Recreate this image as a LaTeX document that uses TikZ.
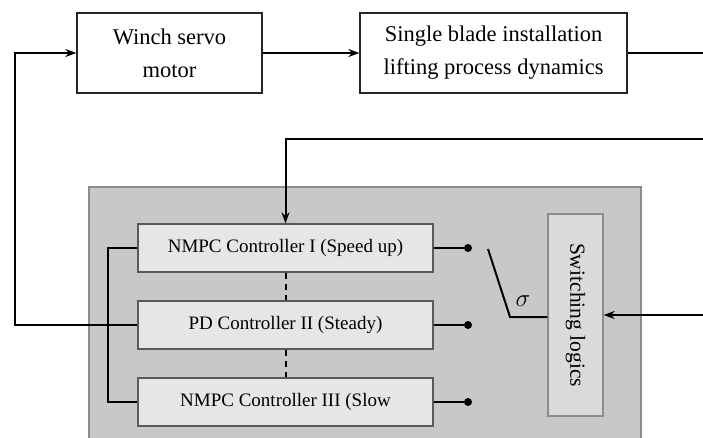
\documentclass[tikz,border=0pt]{standalone}
\usepackage{fontspec}
\setmainfont{Liberation Serif}
\usetikzlibrary{arrows.meta}

\newcommand{\connLineWidth}{2pt}
\newcommand{\boxLineWidth}{1.3pt}
\newcommand{\topRowY}{53}
\newcommand{\refLineY}{139}
\newcommand{\ctrlX}{285.5}
\newcommand{\ctrlOneY}{248}
\newcommand{\ctrlTwoY}{325}
\newcommand{\ctrlThreeY}{402}
\newcommand{\dotX}{468}
\newcommand{\busX}{108}
\newcommand{\feedX}{15}
\newcommand{\rightX}{703}

\definecolor{groupfill}{HTML}{C8C8C8}
\definecolor{groupline}{HTML}{8C8C8C}
\definecolor{ctrlfill}{HTML}{E6E6E6}
\definecolor{ctrlline}{HTML}{5A5A5A}
\definecolor{switchfill}{HTML}{DADADA}

\tikzset{
  plantbox/.style={draw=black!85, line width=\boxLineWidth, fill=white, align=center,
    inner sep=0pt, font=\fontsize{22.5}{33}\selectfont},
  ctrlbox/.style={draw=ctrlline, line width=\boxLineWidth, fill=ctrlfill, inner sep=0pt,
    minimum width=295pt, minimum height=48pt, font=\fontsize{19}{22}\selectfont},
  switchbox/.style={draw=groupline, line width=\boxLineWidth, fill=switchfill, inner sep=0pt,
    minimum width=55pt, minimum height=202pt},
  conn/.style={line width=\connLineWidth, black},
  arr/.style={conn, -{Stealth[length=11pt,width=8pt]}},
  contact/.style={circle, fill=black, inner sep=0pt, minimum size=8pt}
}

\begin{document}
\begin{tikzpicture}[x=1pt,y=-1pt]
        \clip (0,0) rectangle (703,438);

        % Controller group background
        \fill[groupfill, draw=groupline, line width=1.5pt] (89,187) rectangle (641,460);

        % Plant
        \node[plantbox, minimum width=185pt, minimum height=80pt] (winch) at (169.5,\topRowY) {Winch servo\\motor};
        \node[plantbox, minimum width=267pt, minimum height=80pt] (blade) at (493.5,\topRowY) {Single blade installation\\lifting process dynamics};

        % Controllers
        \node[ctrlbox] (ctrlOne) at (\ctrlX,\ctrlOneY) {NMPC Controller I (Speed up)};
        \node[ctrlbox] (ctrlTwo) at (\ctrlX,\ctrlTwoY) {PD Controller II (Steady)};
        \node[ctrlbox] (ctrlThree) at (\ctrlX,\ctrlThreeY) {NMPC Controller III (Slow};
        \node[switchbox] (switch) at (575.5,315) {};
        \node[rotate=-90, font=\fontsize{21.5}{24}\selectfont] (switchText) at (switch.center) {Switching logics};

        % Switch contacts
        \node[contact] (dotOne) at (\dotX,\ctrlOneY) {};
        \node[contact] (dotTwo) at (\dotX,\ctrlTwoY) {};
        \node[contact] (dotThree) at (\dotX,\ctrlThreeY) {};
        \coordinate (bladeTip) at (488,249);
        \coordinate (bladeFoot) at (510,317);
        \node[font=\fontsize{25}{28}\selectfont] (sigma) at (523,301) {$\sigma$};

        % Free ends on the right
        \coordinate (outEnd) at (\rightX,\topRowY);
        \coordinate (refIn) at (\rightX,\refLineY);
        \coordinate (measIn) at (\rightX,315);
        \coordinate (refCorner) at (\ctrlX,\refLineY);
        \coordinate (feedBottom) at (\feedX,\ctrlTwoY);
        \coordinate (feedTop) at (\feedX,\topRowY);

        % Forward path
        \draw[arr] (winch) -- (blade);
        \draw[conn] (blade) -- (outEnd);

        % Reference and measurement inputs
        \draw[arr] (refIn) -- (refCorner) -- (ctrlOne.north);
        \draw[arr] (measIn) -- (switch.east);

        % Controller outputs and switch
        \draw[conn] (ctrlOne.east) -- (dotOne);
        \draw[conn] (ctrlTwo.east) -- (dotTwo);
        \draw[conn] (ctrlThree.east) -- (dotThree);
        \draw[conn] (bladeTip) -- (bladeFoot) -- (switch.west |- bladeFoot);

        % Shared bus and feedback to the motor
        \draw[conn] (ctrlOne.west) -- (\busX,\ctrlOneY) |- (ctrlThree.west);
        \draw[arr] (ctrlTwo.west) -- (feedBottom) -- (feedTop) -- (winch.west);

        % Hand-over between controllers
        \draw[conn, dashed, dash pattern=on 6pt off 5pt] (ctrlOne.south) -- (ctrlTwo.north);
        \draw[conn, dashed, dash pattern=on 6pt off 5pt] (ctrlTwo.south) -- (ctrlThree.north);
    \end{tikzpicture}
\end{document}
